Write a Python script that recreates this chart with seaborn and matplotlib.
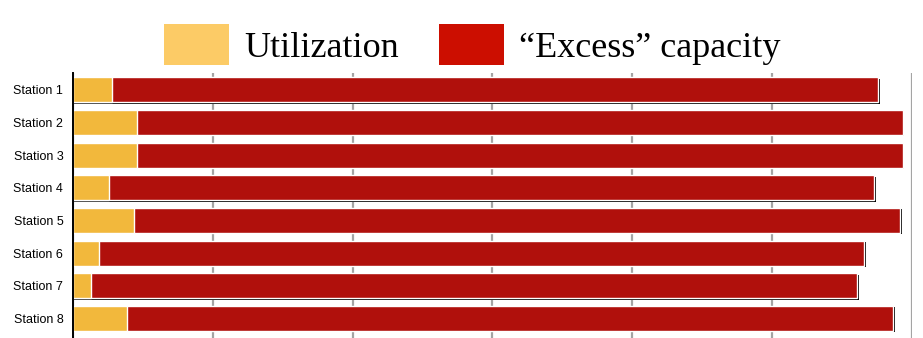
import matplotlib
matplotlib.use("Agg")
import matplotlib.pyplot as plt
import matplotlib.patheffects as pe
from matplotlib.patches import Patch
import seaborn as sns
import pandas as pd

stations = ["Station 1", "Station 2", "Station 3", "Station 4",
            "Station 5", "Station 6", "Station 7", "Station 8"]
utilization = [2.8, 4.6, 4.6, 2.6, 4.35, 1.85, 1.3, 3.85]
capacity_total = [57.6, 59.35, 59.35, 57.3, 59.15, 56.6, 56.1, 58.65]
legend_labels = ["Utilization", "\u201cExcess\u201d capacity"]

df = pd.DataFrame({"station": stations, "util": utilization, "total": capacity_total})

sns.set_style("white")
plt.rcParams["font.family"] = ["Liberation Sans", "DejaVu Sans"]

fig = plt.figure(figsize=(9.23, 3.38), dpi=100)
ax = fig.add_axes([73 / 923, 0.0, (912 - 73) / 923, (338 - 73) / 338])

sns.barplot(data=df, x="total", y="station", orient="h", color="#B0100C",
            saturation=1, width=0.765, ax=ax, zorder=3)
for p in ax.patches:
    p.set_path_effects([pe.SimplePatchShadow(offset=(1, -1), shadow_rgbFace="black", alpha=1),
                        pe.Normal()])
sns.barplot(data=df, x="util", y="station", orient="h", color="#F2B83C",
            saturation=1, width=0.765, ax=ax, zorder=4)

ax.set_xlim(0, 60)
ax.set_ylim(7.597, -0.514)
ax.set_xticks([0, 10, 20, 30, 40, 50, 60])
ax.set_xticklabels([])
ax.xaxis.grid(True, color="#a4a4a4", linewidth=1.6, zorder=0)
ax.yaxis.grid(False)
ax.set_axisbelow(True)
ax.set_xlabel("")
ax.set_ylabel("")
for s in ["top", "right", "bottom"]:
    ax.spines[s].set_visible(False)
ax.spines["left"].set_color("black")
ax.spines["left"].set_linewidth(1.4)
ax.spines["left"].set_zorder(5)
ax.tick_params(axis="y", length=0, pad=7, labelsize=9, labelcolor="black")
ax.tick_params(axis="x", length=0)

handles = [Patch(facecolor="#FCCB66", edgecolor="none"),
           Patch(facecolor="#CC0E00", edgecolor="none")]
leg = fig.legend(handles, legend_labels, loc="center", bbox_to_anchor=(0.512, 0.868),
                 ncol=2, frameon=False, prop={"family": "Liberation Serif", "size": 26},
                 handlelength=1.8, handleheight=1.4, handletextpad=0.42,
                 columnspacing=1.1, borderpad=0, borderaxespad=0)
for t in leg.get_texts():
    t.set_color("black")

fig.savefig("out.png", dpi=100)
